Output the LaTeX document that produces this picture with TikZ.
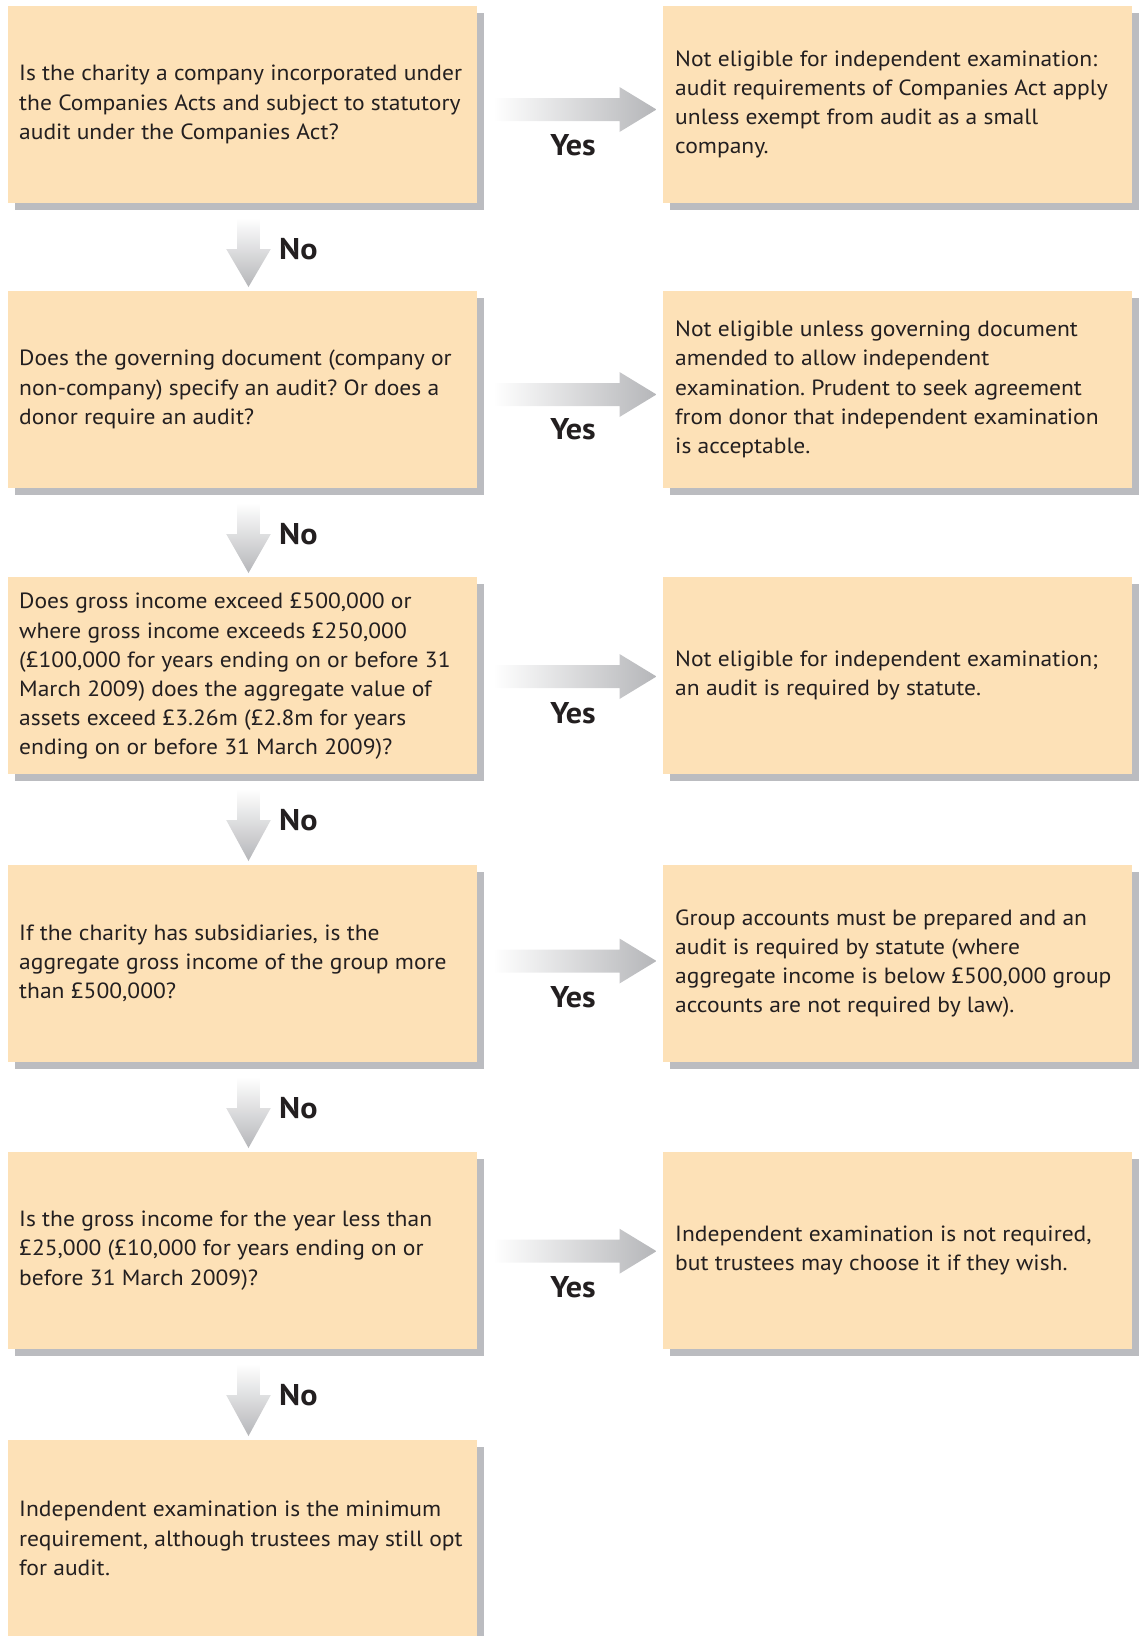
\documentclass[tikz,border=0pt]{standalone}
\usepackage{fontspec}
\setmainfont[FakeStretch=1.07]{PT Sans}
\frenchspacing
\usetikzlibrary{calc,shadows}
\definecolor{boxfill}{HTML}{FDE1B7}
\definecolor{shadowgray}{HTML}{BBBCC0}
\definecolor{arrowgray}{HTML}{B5B6B9}
\definecolor{txtcol}{HTML}{231F20}
\tikzset{
  box/.style={rectangle, fill=boxfill, minimum width=469pt, minimum height=197pt,
    inner sep=0pt, outer sep=0pt, anchor=north west,
    drop shadow={shadow xshift=7pt, shadow yshift=-7pt, fill=shadowgray, opacity=1}},
  boxtext/.style={anchor=west, align=left, inner sep=0pt, text=txtcol,
    font=\fontsize{22}{29.2}\selectfont\frenchspacing},
  answer/.style={inner sep=0pt, text=txtcol, font=\bfseries\fontsize{30}{30}\selectfont},
  arrowfill/.style={left color=white, right color=arrowgray},
  darrowfill/.style={top color=white, bottom color=arrowgray},
}
% #1 left box, #2 right box, #3 arrow shift (down), #4 label offset (down)
\newcommand\yesarrow[4]{%
  \shade[arrowfill] ($(#1.east)+(16,-#3-11.5)$) -- ($(#1.east)+(142.5,-#3-11.5)$)
    -- ($(#1.east)+(142.5,-#3-22.5)$) -- ($(#2.west)+(-6.5,-#3)$)
    -- ($(#1.east)+(142.5,-#3+22.5)$) -- ($(#1.east)+(142.5,-#3+11.5)$)
    -- ($(#1.east)+(16,-#3+11.5)$) -- cycle;
  \node[answer] (#1yes) at ($(#1.east)!0.5!(#2.west)+(3,-#4)$) {Yes};}
\newcommand\noarrow[2]{%
  \shade[darrowfill] ($(#1.south)+(-5.3,-15)$) -- ($(#1.south)+(17.3,-15)$)
    -- ($(#1.south)+(17.3,-46)$) -- ($(#1.south)+(28.3,-46)$)
    -- ($(#2.north)+(6,4)$) -- ($(#1.south)+(-16.3,-46)$)
    -- ($(#1.south)+(-5.3,-46)$) -- cycle;
  \node[answer, anchor=west] (#1no) at ($(#1.south)+(36.5,-46)$) {No};}
\begin{document}
\begin{tikzpicture}[x=1pt,y=1pt]
\useasboundingbox (0,0) rectangle (1138,-1636);
% boxes
\node[box] (L1) at (8,-6) {};
\node[box] (R1) at (663,-6) {};
\node[box] (L2) at (8,-291) {};
\node[box] (R2) at (663,-291) {};
\node[box] (L3) at (8,-577) {};
\node[box] (R3) at (663,-577) {};
\node[box] (L4) at (8,-865) {};
\node[box] (R4) at (663,-865) {};
\node[box] (L5) at (8,-1152) {};
\node[box] (R5) at (663,-1152) {};
\node[box] (L6) at (8,-1440) {};
% texts
\node[boxtext] (L1t) at ($(L1.west)+(11,0)$) {Is the charity a company incorporated under\\the Companies Acts and subject to statutory\\audit under the Companies Act?};
\node[boxtext] (R1t) at ($(R1.west)+(12,0)$) {Not eligible for independent examination:\\audit requirements of Companies Act apply\\unless exempt from audit as a small\\company.};
\node[boxtext] (L2t) at ($(L2.west)+(11,0)$) {Does the governing document (company or\\non-company) specify an audit? Or does a\\donor require an audit?};
\node[boxtext] (R2t) at ($(R2.west)+(12,0)$) {Not eligible unless governing document\\amended to allow independent\\examination. Prudent to seek agreement\\from donor that independent examination\\is acceptable.};
\node[boxtext] (L3t) at ($(L3.west)+(11,-1)$) {Does gross income exceed £500,000 or\\where gross income exceeds £250,000\\(£100,000 for years ending on or before 31\\March 2009) does the aggregate value of\\assets exceed £3.26m (£2.8m for years\\ending on or before 31 March 2009)?};
\node[boxtext] (R3t) at ($(R3.west)+(12,0)$) {Not eligible for independent examination;\\an audit is required by statute.};
\node[boxtext] (L4t) at ($(L4.west)+(11,0)$) {If the charity has subsidiaries, is the\\aggregate gross income of the group more\\than £500,000?};
\node[boxtext] (R4t) at ($(R4.west)+(12,0)$) {Group accounts must be prepared and an\\audit is required by statute (where\\aggregate income is below £500,000 group\\accounts are not required by law).};
\node[boxtext] (L5t) at ($(L5.west)+(11,0)$) {Is the gross income for the year less than\\£25,000 (£10,000 for years ending on or\\before 31 March 2009)?};
\node[boxtext] (R5t) at ($(R5.west)+(12,0)$) {Independent examination is not required,\\but trustees may choose it if they wish.};
\node[boxtext] (L6t) at ($(L6.west)+(11,0)$) {Independent examination is the minimum\\requirement, although trustees may still opt\\for audit.};
% arrows
\yesarrow{L1}{R1}{5}{41}
\yesarrow{L2}{R2}{5}{40}
\yesarrow{L3}{R3}{1}{37.5}
\yesarrow{L4}{R4}{-2.5}{34}
\yesarrow{L5}{R5}{0.7}{36.7}
\noarrow{L1}{L2}
\noarrow{L2}{L3}
\noarrow{L3}{L4}
\noarrow{L4}{L5}
\noarrow{L5}{L6}
\end{tikzpicture}
\end{document}
